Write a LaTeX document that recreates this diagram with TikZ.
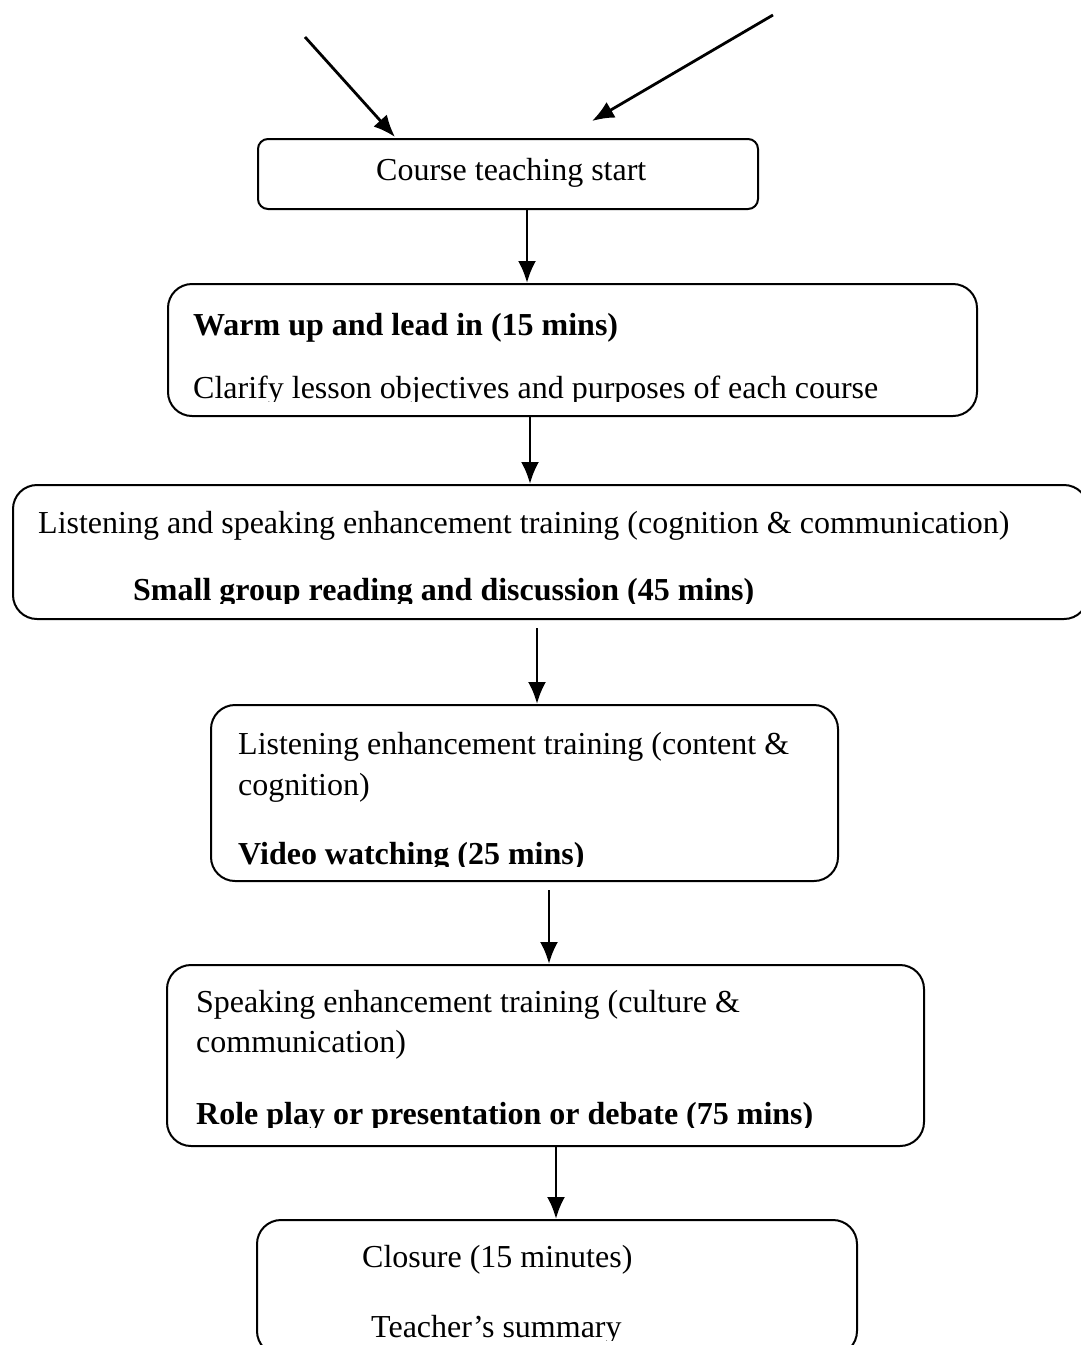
\documentclass[tikz,border=0pt]{standalone}
\usepackage{fontspec}
\setmainfont{Liberation Serif}
\usetikzlibrary{arrows.meta}
\begin{document}
\begin{tikzpicture}[x=1pt,y=-1pt,
  box/.style={draw,line width=2pt,rounded corners=#1,inner sep=0pt,anchor=north west},
  txt/.style={anchor=base west,inner sep=0pt,font=\fontsize{32}{41}\selectfont},
  arr/.style={line width=2.8pt,-{Latex[length=22pt,width=18pt]}}]
\useasboundingbox (0,0) rectangle (1080,1345);
% boxes
\node[box=10pt,minimum width=500pt,minimum height=70pt] (b1) at (257,138) {};
\node[box=24pt,minimum width=809pt,minimum height=132pt] (b2) at (167,283) {};
\node[box=24pt,minimum width=1075pt,minimum height=134pt] (b3) at (12,484) {};
\node[box=24pt,minimum width=627pt,minimum height=176pt] (b4) at (210,704) {};
\node[box=24pt,minimum width=757pt,minimum height=181pt] (b5) at (166,964) {};
\node[box=24pt,minimum width=600pt,minimum height=135pt] (b6) at (256,1219) {};
% texts
\node[txt] (t1) at (376,180) {Course teaching start};
\node[txt] (t2a) at (193,335) {\bfseries Warm up and lead in (15 mins)};
\begin{scope}\clip (0,0) rectangle (1080,401);
\node[txt] (t2b) at (193,398) {Clarify lesson objectives and purposes of each course};
\end{scope}
\node[txt] (t3a) at (38,533) {Listening and speaking enhancement training (cognition \& communication)};
\begin{scope}\clip (0,0) rectangle (1080,603);
\node[txt] (t3b) at (133,600) {\bfseries Small group reading and discussion (45 mins)};
\end{scope}
\node[txt] (t4a) at (238,754) {Listening enhancement training (content \&};
\node[txt] (t4b) at (238,795) {cognition)};
\begin{scope}\clip (0,0) rectangle (1080,866);
\node[txt] (t4c) at (238,864) {\bfseries Video watching (25 mins)};
\end{scope}
\node[txt] (t5a) at (196,1012) {Speaking enhancement training (culture \&};
\node[txt] (t5b) at (196,1052) {communication)};
\begin{scope}\clip (0,0) rectangle (1080,1127);
\node[txt] (t5c) at (196,1124) {\bfseries Role play or presentation or debate (75 mins)};
\end{scope}
\node[txt] (t6a) at (362,1267) {Closure (15 minutes)};
\begin{scope}\clip (0,0) rectangle (1080,1340);
\node[txt] (t6b) at (371,1337) {Teacher’s summary};
\end{scope}
% free arrow ends
\coordinate (la) at (305,37);
\coordinate (lt) at (395,137);
\coordinate (ra) at (773,15);
\coordinate (rt) at (592,121);
\draw[arr] (la) -- (lt);
\draw[arr] (ra) -- (rt);
% connectors
\draw[arr] ([xshift=19pt]b1.south) -- ([xshift=-45.5pt]b2.north);
\draw[arr] ([xshift=-42.5pt]b2.south) -- ([xshift=-20.5pt]b3.north);
\draw[arr] ([xshift=-13.5pt,yshift=-8pt]b3.south) -- ([xshift=12.5pt]b4.north);
\draw[arr] ([xshift=24.5pt,yshift=-8pt]b4.south) -- ([xshift=3.5pt]b5.north);
\draw[arr] ([xshift=10.5pt]b5.south) -- ([xshift=-1pt]b6.north);
\end{tikzpicture}
\end{document}
